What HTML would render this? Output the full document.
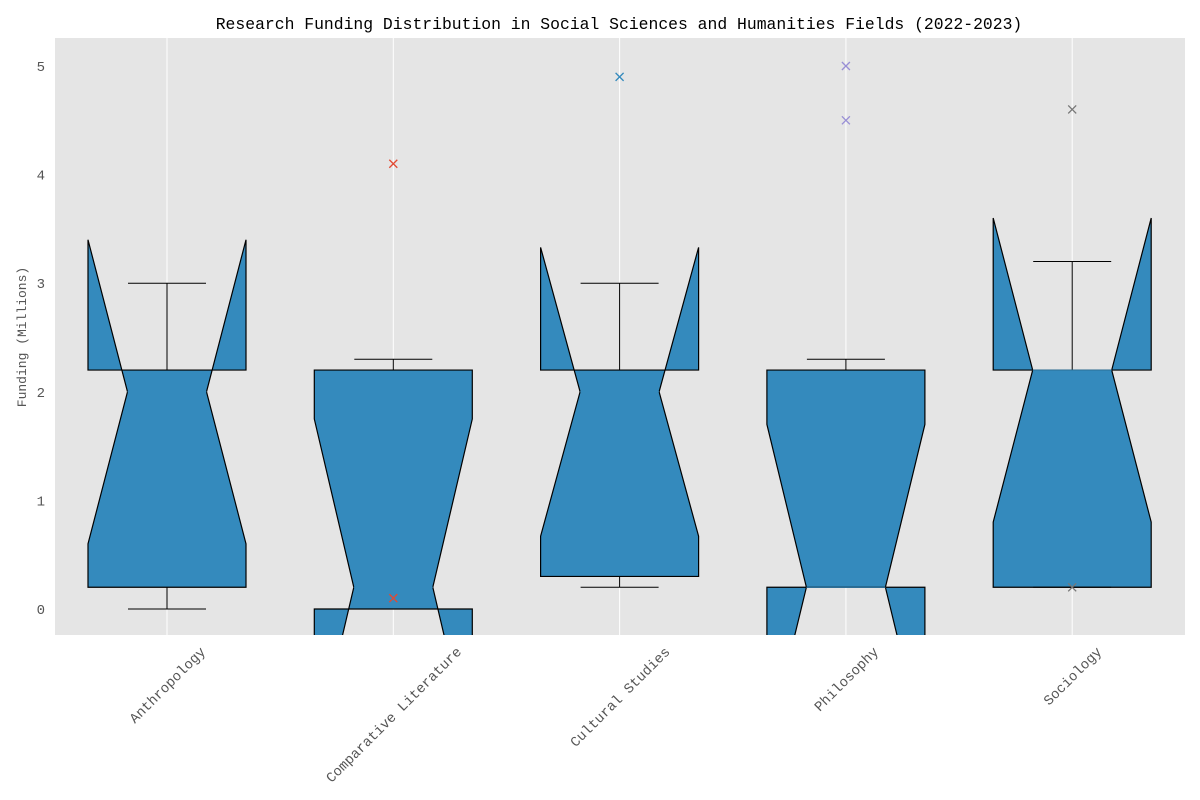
<!DOCTYPE html>
<html><head><meta charset="utf-8"><style>
body{margin:0;background:#fff;}
svg{display:block;font-family:"Liberation Mono","Noto Sans CJK SC",monospace;}
</style></head><body>
<svg id="chart" width="1200" height="800">
<rect x="55" y="38" width="1130" height="597" fill="#E5E5E5"/>
<text x="619" y="29" text-anchor="middle" font-size="16.4" fill="#000">Research Funding Distribution in Social Sciences and Humanities Fields (2022-2023)</text>
<text transform="translate(26,337) rotate(-90)" text-anchor="middle" font-size="13" fill="#555">Funding (Millions)</text>
<defs><clipPath id="clip"><rect x="55" y="38" width="1130" height="597"/></clipPath></defs>
<g id="grid"></g><g id="axes"></g><g id="boxes" clip-path="url(#clip)"></g>
</svg>
<script>
const categories=["Anthropology","Comparative Literature","Cultural Studies","Philosophy","Sociology"];
const q1=[0.2,0.0,0.3,0.2,0.2];
const q3=[2.2,2.2,2.2,2.2,2.2];
const medians=[2.0,0.2,2.0,0.2,2.2];
const notchLo=[0.6,-1.35,0.67,-1.3,0.8];
const notchHi=[3.4,1.75,3.33,1.7,3.6];
const whiskerLo=[0,0,0.2,0.2,0.2];
const whiskerHi=[3.0,2.3,3.0,2.3,3.2];
const outliers=[[],[4.1,0.1],[4.9],[5.0,4.5],[4.6,0.2]];
const outlierColors=["#E24A33","#E24A33","#348ABD","#988ED5","#777777"];
const yTicks=[0,1,2,3,4,5];
const NS="http://www.w3.org/2000/svg";
const y=v=>609-v*108.6;
const x=i=>167+i*226.3;
const hw=79;
function mk(t,a,p){const e=document.createElementNS(NS,t);for(const k in a)e.setAttribute(k,a[k]);p.appendChild(e);return e;}
const grid=document.getElementById('grid'),axes=document.getElementById('axes'),boxes=document.getElementById('boxes');
categories.forEach((c,i)=>{
 const g=mk('line',{x1:x(i),x2:x(i),y1:38,y2:635,stroke:'#fff','stroke-width':1},grid);
 
 
 const t=mk('text',{'text-anchor':'middle','font-size':14,fill:'#555'},axes);
 t.textContent=c;
 
 
 const len=t.getComputedTextLength();
 const cy=647+len*0.7071/2+2;
 t.setAttribute('transform',`translate(${x(i)},${cy}) rotate(-45)`);
 t.setAttribute('y',5);
});
yTicks.forEach(v=>{
 const t=mk('text',{x:45,y:y(v)+5,'text-anchor':'end','font-size':14,fill:'#555'},axes);
 t.textContent=v;
 
 
});
categories.forEach((c,i)=>{
 const cx=x(i),L=cx-hw,R=cx+hw,l2=cx-hw/2,r2=cx+hw/2;
 const pts=[[L,y(q1[i])],[R,y(q1[i])],[R,y(notchLo[i])],[r2,y(medians[i])],[R,y(notchHi[i])],[R,y(q3[i])],[L,y(q3[i])],[L,y(notchHi[i])],[l2,y(medians[i])],[L,y(notchLo[i])]];
 const wl=mk('line',{x1:cx,x2:cx,y1:y(whiskerLo[i]),y2:y(q1[i]),stroke:'#000'},boxes);
 
 
 const wh=mk('line',{x1:cx,x2:cx,y1:y(whiskerHi[i]),y2:y(q3[i]),stroke:'#000'},boxes);
 
 
 const p=mk('polygon',{points:pts.map(q=>q.join(',')).join(' '),fill:'#348ABD',stroke:'#000','stroke-width':1.2},boxes);
 
 
 [whiskerLo[i],whiskerHi[i]].forEach(v=>{
  const cap=mk('line',{x1:cx-39,x2:cx+39,y1:y(v),y2:y(v),stroke:'#000'},boxes);
  
  
 });
 const md=mk('line',{x1:l2,x2:r2,y1:y(medians[i]),y2:y(medians[i]),stroke:'#348ABD'},boxes);
 
 
 outliers[i].forEach(v=>{
  const o=mk('path',{d:`M${cx-4},${y(v)-4}L${cx+4},${y(v)+4}M${cx-4},${y(v)+4}L${cx+4},${y(v)-4}`,stroke:outlierColors[i],'stroke-width':1.3},boxes);
  
  
 });
});
</script>
</body></html>
